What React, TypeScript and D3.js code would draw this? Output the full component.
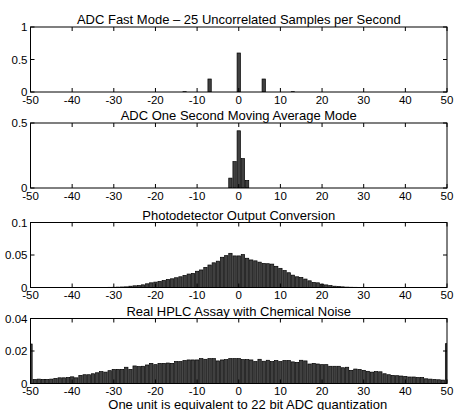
import { useEffect, useRef } from 'react';
import * as d3 from 'd3';

const titles = [
  'ADC Fast Mode \u2013 25 Uncorrelated Samples per Second',
  'ADC One Second Moving Average Mode',
  'Photodetector Output Conversion',
  'Real HPLC Assay with Chemical Noise',
];
const xLabel = 'One unit is equivalent to 22 bit ADC quantization';

const xTicks = [-50, -40, -30, -20, -10, 0, 10, 20, 30, 40, 50];

const fastBins = [-13, -7, 0, 6, 13];
const fastValues = [0.005, 0.2, 0.6, 0.2, 0.005];

const avgBins = [-2, -1, 0, 1, 2];
const avgValues = [0.076, 0.203, 0.44, 0.226, 0.058];

const bins = d3.range(-50, 51);

// -50 .. 50
const photoValues = [
  0, 0, 0, 0, 0, 0, 0, 0, 0, 0,
  0, 0, 0, 0, 0, 0, 0, 0, 0.0001,
  0.0003, 0.0004, 0.0006, 0.0008, 0.001, 0.002, 0.0026, 0.003, 0.0041, 0.0057,
  0.0072, 0.0083, 0.0093, 0.0108, 0.0124, 0.0134, 0.015, 0.0165, 0.0186, 0.0207,
  0.0217, 0.025, 0.027, 0.031, 0.0346, 0.038, 0.0405, 0.0465, 0.049, 0.0526,
  0.0486, 0.0486, 0.0506, 0.045, 0.0424, 0.041, 0.039, 0.037, 0.0366, 0.036,
  0.0326, 0.0295, 0.026, 0.0227, 0.019, 0.0165, 0.0155, 0.013, 0.0103, 0.0078,
  0.0072, 0.0052, 0.004, 0.003, 0.002, 0.0015, 0.001, 0.0006, 0.0004, 0.0003,
  0.0002, 0.0001, 0, 0, 0, 0, 0, 0, 0, 0,
  0, 0, 0, 0, 0, 0, 0, 0, 0, 0, 0,
];

// -50 .. 50
const hplcValues = [
  0.0243, 0.0025, 0.0027, 0.0025, 0.0025, 0.0027, 0.0031, 0.0035, 0.0035, 0.0037,
  0.0041, 0.0035, 0.005, 0.0054, 0.0054, 0.006, 0.0066, 0.0073, 0.007, 0.0079,
  0.0087, 0.0087, 0.0087, 0.01, 0.0087, 0.0108, 0.0104, 0.0106, 0.0114, 0.0124,
  0.0116, 0.0124, 0.0124, 0.0126, 0.0124, 0.0135, 0.0135, 0.0141, 0.0145, 0.0145,
  0.0145, 0.0153, 0.0149, 0.0153, 0.0153, 0.0139, 0.0145, 0.0147, 0.0153, 0.0153,
  0.0153, 0.0147, 0.0147, 0.0145, 0.0135, 0.0149, 0.0137, 0.0143, 0.0135, 0.0141,
  0.0135, 0.0141, 0.0141, 0.0133, 0.013, 0.0143, 0.0139, 0.012, 0.0124, 0.012,
  0.0116, 0.0116, 0.0106, 0.0106, 0.0106, 0.0097, 0.01, 0.0081, 0.0089, 0.0087,
  0.0081, 0.0075, 0.007, 0.0073, 0.0072, 0.006, 0.0054, 0.005, 0.0048, 0.0046,
  0.0044, 0.004, 0.004, 0.0037, 0.0037, 0.0029, 0.0027, 0.0025, 0.0023, 0.0021,
  0.0245,
];

const yMaxes = [1, 0.5, 0.1, 0.04];
const yTickSets = [[0, 0.5, 1], [0, 0.5], [0, 0.05, 0.1], [0, 0.02, 0.04]];

function App() {
  const ref = useRef<SVGSVGElement>(null);

  useEffect(() => {
    draw();
    // eslint-disable-next-line
  }, []);

  function draw() {
    const config = { left: 30.5, right: 447, height: 65, tops: [27, 123, 222.5, 318.5] };
    const font = '"Liberation Sans", Arial, Helvetica, sans-serif';
    const svg = d3.select(ref.current);
    svg.selectAll('*').remove();

    const xScale = d3.scaleLinear().domain([-50, 50]).range([config.left, config.right]);
    const barW = (xScale(1) - xScale(0)) * 0.8;

    const panels = [
      fastBins.map((b, i) => ({ x: b, y: fastValues[i] })),
      avgBins.map((b, i) => ({ x: b, y: avgValues[i] })),
      bins.map((b, i) => ({ x: b, y: photoValues[i] })),
      bins.map((b, i) => ({ x: b, y: hplcValues[i] })),
    ];

    panels.forEach((data, p) => {
      const top = config.tops[p];
      const bottom = top + config.height;
      const yScale = d3.scaleLinear().domain([0, yMaxes[p]]).range([bottom, top]);
      const g = svg.append('g');

      g.append('clipPath').attr('id', `clip${p}`)
        .append('rect')
        .attr('x', config.left).attr('y', top)
        .attr('width', config.right - config.left).attr('height', config.height);

      g.append('g').attr('clip-path', `url(#clip${p})`)
        .selectAll('rect')
        .data(data)
        .join('rect')
        .attr('x', d => xScale(d.x) - barW / 2)
        .attr('width', barW)
        .attr('y', d => yScale(d.y))
        .attr('height', d => bottom - yScale(d.y))
        .style('fill', '#404040')
        .style('stroke', '#000')
        .style('stroke-width', 0.7);

      g.append('rect')
        .attr('x', config.left).attr('y', top)
        .attr('width', config.right - config.left).attr('height', config.height)
        .style('fill', 'none').style('stroke', '#000').style('stroke-width', 1);

      // inward ticks, all four sides
      const tickLen = 4;
      xTicks.forEach(t => {
        const x = xScale(t);
        g.append('line').attr('x1', x).attr('x2', x).attr('y1', bottom).attr('y2', bottom - tickLen).style('stroke', '#000');
        g.append('line').attr('x1', x).attr('x2', x).attr('y1', top).attr('y2', top + tickLen).style('stroke', '#000');
        g.append('text')
          .attr('x', x).attr('y', bottom + 11.5)
          .attr('text-anchor', 'middle')
          .style('font-family', font).style('font-size', '11.5px')
          .text(`${t}`);
      });
      yTickSets[p].forEach(t => {
        const y = yScale(t);
        g.append('line').attr('x1', config.left).attr('x2', config.left + tickLen).attr('y1', y).attr('y2', y).style('stroke', '#000');
        g.append('line').attr('x1', config.right).attr('x2', config.right - tickLen).attr('y1', y).attr('y2', y).style('stroke', '#000');
        g.append('text')
          .attr('x', config.left - 3).attr('y', y + 4)
          .attr('text-anchor', 'end')
          .style('font-family', font).style('font-size', '11.5px')
          .text(`${t}`);
      });

      g.append('text')
        .attr('x', (config.left + config.right) / 2).attr('y', top - 3)
        .attr('text-anchor', 'middle')
        .style('font-family', font).style('font-size', '13px')
        .text(titles[p]);
    });

    svg.append('text')
      .attr('x', (config.left + config.right) / 2 + 9).attr('y', 408.5)
      .attr('text-anchor', 'middle')
      .style('font-family', font).style('font-size', '13px')
      .text(xLabel);
  }

  return (
    <svg ref={ref} width={454} height={410}
      style={{ position: 'absolute', left: 0, top: 0, background: '#fff' }} />
  );
}

export default App;
